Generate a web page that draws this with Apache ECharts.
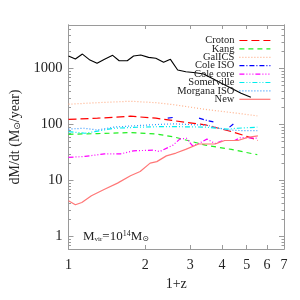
<!DOCTYPE html>
<html><head><meta charset="utf-8">
<script src="https://cdn.jsdelivr.net/npm/echarts@6/dist/echarts.min.js"></script>
<style>html,body{margin:0;padding:0;background:#fff}#c{width:300px;height:300px}</style>
</head><body><div id="c"></div>
<script>
// ---- data (x = 1+z, y = dM/dt in Msun/yr) ----
const blackX = [1.0,1.064,1.134,1.214,1.294,1.385,1.49,1.58,1.70,1.80,1.92,2.06,2.20,2.36,2.51,2.68,2.885,3.15,3.39,3.65,3.98,4.35,4.75,5.19];
const blackY = [1675,1480,1816,1419,1240,1462,1722,1380,1380,1675,1743,1585,1524,1292,1462,942,879,844,800,670,546,445,362,307];
const crotonX = [1.0,1.3,1.75,2.2,2.6,3.44,4.35,5.04,5.53];
const crotonY = [124,130,141,130,117,99,75,61,52];
const kangX = [1.0,1.3,1.75,2.2,2.6,3.44,4.35,5.5];
const kangY = [67,69,72,68,60,43,36,29];
const galicsX = [1.0,1.3,1.75,2.2,2.6,3.4,4.6,5.5];
const galicsY = [231,246,261,246,226,188,159,143];
const coleIsoX = [2.45,2.6,2.62,3.25,3.45,3.7,3.72,4.28,4.47];
const coleIsoY = [130,135,null,130,120,112,null,90,106];
const coleCoreX = [1.0,1.16,1.385,1.6,1.8,2.15,2.28,2.57,2.73,2.9,3.06,3.24,3.49,3.76,4.04,4.48,4.75,5.5];
const coleCoreY = [26,27,30,30,34,35,33,43,55,57,42,46,55,46,52,52,59,57];
const somervilleX = [1.0,1.16,1.51,1.91,2.35,2.6,3.43,4.2,4.6,5.5];
const somervilleY = [75,70,86,90,92,92,90,83,86,90];
const morganaX = [1.0,1.15,1.3,1.5,1.8,2.2,2.6,3.0,3.5,4.2,4.8,5.5];
const morganaY = [83,86,80,90,95,100,103,100,97,80,78,78];
const newX = [1.0,1.064,1.128,1.23,1.385,1.557,1.75,1.91,2.09,2.22,2.42,2.64,2.88,3.24,3.76,4.1,4.62,5.04,5.53];
const newY = [4.35,3.7,4.06,5.35,7.0,9.0,12.2,14.5,20.5,21.8,27.6,31,36,45,45,52,52,59,63];
// ---- ticks ----
const xTicks = [1,2,3,4,5,6,7];
const yMajor = [1,10,100,1000];
const yMinor = [0.7,0.8,0.9,2,3,4,5,6,7,8,9,20,30,40,50,60,70,80,90,200,300,400,500,600,700,800,900,2000,3000,4000,5000];

const FONT = 'Liberation Serif';
const GRAY = '#9a9a9a';
const pairs = (xs, ys) => xs.map((x, i) => [x, ys[i] == null ? '-' : ys[i]]);
const plain = v => String(Math.round(v * 1000) / 1000);

function mkX(pos, show) {
  return {type:'log', logBase:10, min:1, max:7, position:pos, gridIndex:0,
    axisLine:{show:true, lineStyle:{color:GRAY, width:1}},
    axisTick:{show:true, inside:true, length:4, lineStyle:{color:GRAY}, customValues:xTicks},
    axisLabel:{show:show, customValues:xTicks, formatter:plain, color:'#222', fontFamily:FONT, fontSize:14, margin:9},
    splitLine:{show:false}, minorTick:{show:false},
    name: show ? '1+z' : '', nameLocation:'middle', nameGap:26,
    nameTextStyle:{color:'#222', fontFamily:FONT, fontSize:14}};
}
function mkY(pos, minor, show) {
  const vals = minor ? yMinor : yMajor;
  return {type:'log', logBase:10, min:0.6, max:6000, position:pos, gridIndex:0,
    axisLine:{show:true, lineStyle:{color:GRAY, width:1}},
    axisTick:{show:true, inside:true, length: minor ? 2.5 : 5, lineStyle:{color:GRAY}, customValues:vals},
    axisLabel:{show:show, customValues:yMajor, formatter:plain, color:'#222', fontFamily:FONT, fontSize:14.5, margin:6},
    splitLine:{show:false}, minorTick:{show:false},
    name: show ? 'dM/dt (M{s|⊙}/year)' : '', nameLocation:'middle', nameGap:46, nameRotate:90,
    nameTextStyle:{color:'#222', fontFamily:FONT, fontSize:14, rich:{s:{fontSize:9, fontFamily:'DejaVu Sans', color:'#222', verticalAlign:'bottom', padding:[6,0,0,0]}}}};
}

function line(name, xs, ys, color, type, width) {
  return {name, type:'line', xAxisIndex:0, yAxisIndex:0, data:pairs(xs, ys), symbol:'none', showSymbol:false,
    connectNulls:false, smooth:false, animation:false,
    lineStyle:{color, width: width || 1.2, type: type || 'solid'}, itemStyle:{color}};
}

const chart = echarts.init(document.getElementById('c'), null, {renderer:'canvas'});
chart.setOption({
  animation:false,
  backgroundColor:'#fff',
  grid:{left:63, right:16, top:25, bottom:51, containLabel:false},
  xAxis:[mkX('bottom', true), mkX('top', false)],
  yAxis:[mkY('left', false, true), mkY('left', true, false), mkY('right', false, false), mkY('right', true, false)],
  legend:{
    show:true, orient:'vertical', right:29, top:35, align:'right',
    itemWidth:31, itemHeight:8, itemGap:-2.6, padding:0,
    itemStyle:{opacity:0},
    lineStyle:{width:1.2},
    textStyle:{fontFamily:FONT, fontSize:10.5, color:'#222'},
    data:['Croton','Kang','GalICS','Cole ISO','Cole core','Somerville','Morgana ISO','New']
  },
  graphic:[{type:'text', left:83, top:230, style:{
    text:'M{sub|vir}=10{sup|14}M{sub2|⊙}', fontFamily:FONT, fontSize:13, fill:'#222',
    rich:{sub:{fontSize:7, fontFamily:FONT, fill:'#222', verticalAlign:'bottom', padding:[5,0,0,0]},
          sup:{fontSize:8, fontFamily:FONT, fill:'#222', verticalAlign:'top', padding:[0,0,5,0]},
          sub2:{fontSize:8, fontFamily:'DejaVu Sans', fill:'#222', verticalAlign:'bottom', padding:[5,0,0,0]}}
  }}],
  series:[
    line('Total', blackX, blackY, '#000000', 'solid', 1.1),
    line('GalICS', galicsX, galicsY, '#ffb08a', [1,2], 1.2),
    line('Croton', crotonX, crotonY, '#ff0000', [8,4], 1.2),
    line('Kang', kangX, kangY, '#22ee22', [5,4], 1.2),
    line('Somerville', somervilleX, somervilleY, '#00eeee', [5,2,1,2,1,2], 1.2),
    line('Morgana ISO', morganaX, morganaY, '#3399ff', [1,2], 1.2),
    line('Cole ISO', coleIsoX, coleIsoY, '#0000ff', [5,2,1,2], 1.2),
    line('Cole core', coleCoreX, coleCoreY, '#ff00ff', [5,2,1,2,1,2,1,2], 1.2),
    line('New', newX, newY, '#ff7777', 'solid', 1.2)
  ]
});
</script></body></html>
